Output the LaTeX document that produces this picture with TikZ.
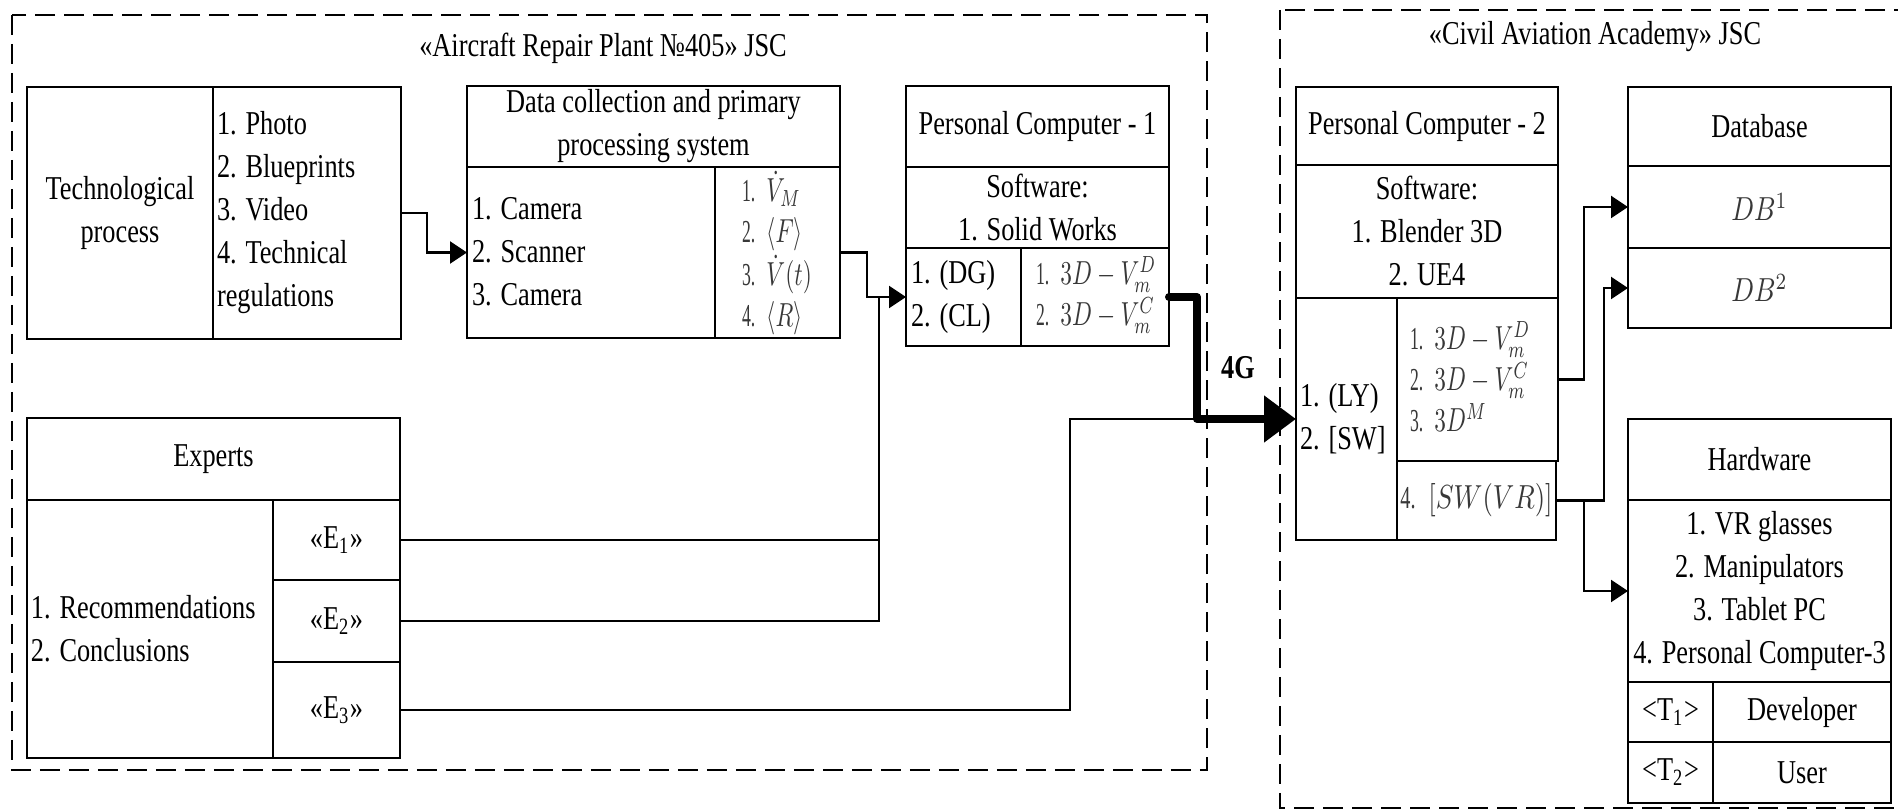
\documentclass[tikz,border=0pt]{standalone}
\usepackage{fontspec}
\usepackage{graphicx}
\setmainfont{Liberation Serif}[FakeStretch=0.79]
\usetikzlibrary{arrows.meta,fit}
\definecolor{mathgray}{gray}{0.22}

% framed cell spanning the corner points (x1,y1)-(x2,y2)
\newcommand\cellbox[5]{\node[cell, fit={(#2,#3) (#4,#5)}] (#1) {};}
% framed cell with a centred caption
\newcommand\cellboxt[6]{\cellbox{#1}{#2}{#3}{#4}{#5}\node[ctext] (#1-t) at (#1.center) {#6};}
% left-aligned list of formulas, condensed like the text face
\newcommand\mlist[1]{\scalebox{0.7}[1]{\begin{tabular}{@{}l@{}}#1\end{tabular}}}

\tikzset{
  cell/.style={draw, line width=0.66pt, inner sep=0pt, outer sep=0pt},
  ctext/.style={inner sep=0pt, outer sep=0pt, align=center},
  txt/.style={inner sep=0pt, outer sep=0pt, align=left},
  mth/.style={inner sep=0pt, outer sep=0pt, text=mathgray, font=\fontsize{9.6}{12.3}\selectfont},
  wire/.style={line width=0.75pt},
  arr/.style={wire, -{Triangle[length=5.1pt,width=6.6pt]}},
  link4g/.style={line width=2.4pt, line join=round, line cap=round,
                 -{Triangle[length=9.6pt,width=13.5pt]}},
  frame/.style={line width=0.6pt, dash pattern=on 6pt off 2.7pt},
}

\begin{document}
\begin{tikzpicture}[x=0.3pt, y=-0.3pt, font=\fontsize{10}{12.9}\selectfont]
\useasboundingbox (0,0) rectangle (1898,812);

% organisation frames
\draw[frame] (12,15) rectangle (1207,770);
\draw[frame] (1280,10) rectangle (1930,808);
\node (ttlA) at (603,48) {«Aircraft Repair Plant №405» JSC};
\node (ttlB) at (1595,37) {«Civil Aviation Academy» JSC};

% technological process
\cellboxt{tpL}{27}{87}{213}{339}{Technological\\process}
\cellbox{tpR}{213}{87}{401}{339}
\node[txt, anchor=west] (tpRt) at (217,213) {1. Photo\\2. Blueprints\\3. Video\\4. Technical\\regulations};

% data collection system
\cellboxt{dcT}{467}{86}{840}{167}{Data collection and primary\\processing system}
\cellbox{dcL}{467}{167}{715}{338}
\node[txt, anchor=west] (dcLt) at (472,252) {1. Camera\\2. Scanner\\3. Camera};
\cellbox{dcR}{715}{167}{840}{338}
\node[mth, anchor=west] (dcRt) at (742,255) {\mlist{1.\enspace$\dot{V}_M$\\2.\enspace$\langle F\rangle$\\3.\enspace$\dot{V}(t)$\\4.\enspace$\langle R\rangle$}};

% personal computer 1
\cellboxt{p1T}{906}{86}{1169}{167}{Personal Computer - 1}
\cellboxt{p1S}{906}{167}{1169}{248}{Software:\\1. Solid Works}
\cellbox{p1L}{906}{248}{1021}{346}
\node[txt, anchor=west] (p1Lt) at (911,297) {1. (DG)\\2. (CL)};
\cellbox{p1R}{1021}{248}{1169}{346}
\node[mth, anchor=west] (p1Rt) at (1036,297) {\mlist{1.\enspace$3D-V^D_m$\\2.\enspace$3D-V^C_m$}};

% experts
\cellboxt{exT}{27}{418}{400}{500}{Experts}
\cellbox{exL}{27}{500}{273}{758}
\node[txt, anchor=west] (exLt) at (31,629) {1. Recommendations\\2. Conclusions};
\cellboxt{e1}{273}{500}{400}{580}{«E\textsubscript{1}»}
\cellboxt{e2}{273}{580}{400}{662}{«E\textsubscript{2}»}
\cellboxt{e3}{273}{662}{400}{758}{«E\textsubscript{3}»}

% personal computer 2
\cellboxt{p2T}{1296}{87}{1558}{165}{Personal Computer - 2}
\cellboxt{p2S}{1296}{165}{1558}{298}{Software:\\1. Blender 3D\\2. UE4}
\cellbox{p2L}{1296}{298}{1397}{540}
\node[txt, anchor=west] (p2Lt) at (1300,419) {1. (LY)\\2. [SW]};
\cellbox{p2M}{1397}{298}{1558}{461}
\node[mth, anchor=west] (p2Mt) at (1410,382) {\mlist{1.\enspace$3D-V^D_m$\\2.\enspace$3D-V^C_m$\\3.\enspace$3D^M$}};
\cellbox{p2V}{1397}{461}{1556}{540}
\node[mth] (p2Vt) at (p2V.center) {\scalebox{0.8}[1]{4.\enspace$[SW(VR)]$}};

% database
\cellboxt{dbT}{1628}{87}{1891}{166}{Database}
\cellbox{db1}{1628}{166}{1891}{248}
\node[mth] (db1t) at (db1.center) {\scalebox{0.8}[1]{$DB^1$}};
\cellbox{db2}{1628}{248}{1891}{328}
\node[mth] (db2t) at (db2.center) {\scalebox{0.8}[1]{$DB^2$}};

% hardware
\cellboxt{hwT}{1628}{419}{1891}{500}{Hardware}
\cellboxt{hwL}{1628}{500}{1891}{682}{1. VR glasses\\2. Manipulators\\3. Tablet PC\\4. Personal Computer-3}
\cellboxt{t1}{1628}{682}{1713}{742}{<T\textsubscript{1}>}
\cellboxt{dev}{1713}{682}{1891}{742}{Developer}
\cellboxt{t2}{1628}{742}{1713}{803}{<T\textsubscript{2}>}
\cellboxt{usr}{1713}{742}{1891}{803}{User}

% connectors inside the plant
\draw[arr] (tpR.east) -- ++(26,0) |- (dcL.west);
\draw[arr] (dcR.east) -- ++(27,0) |- (p1L.west);
\coordinate (jE) at (879,297);
\draw[wire] (e2.east) -| (jE);
\draw[wire] (e1.east) -- (e1.east -| jE);

% 4G link to the academy
\coordinate (j4g) at (1197,419);
\coordinate (kE3) at (1070,419);
\draw[wire] (e3.east) -| (kE3) -- (j4g);
\draw[link4g] (p1R.east) -- (p1R.east -| j4g) |- (p2L.west);
\node[font=\fontsize{10}{12}\selectfont\bfseries] (lbl4g) at (1238,368) {4G};

% connectors inside the academy
\draw[arr] (p2M.east) -- ++(26,0) |- (db1.west);
\draw[arr] (p2V.east) -- ++(48,0) |- (db2.west);
\draw[arr] (p2V.east) -- ++(28,0) |- (hwL.west);
\end{tikzpicture}
\end{document}
